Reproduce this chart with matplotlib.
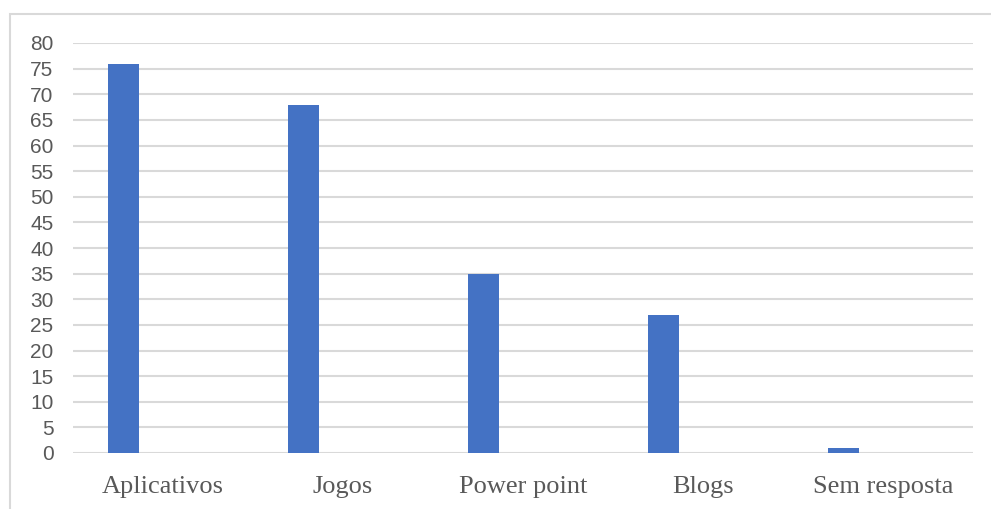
import numpy as np
import matplotlib.pyplot as plt
from matplotlib.patches import Rectangle

# Dados
categorias = ["Aplicativos", "Jogos", "Power point", "Blogs", "Sem resposta"]
valores = [76, 68, 35, 27, 1]
yticks = list(range(0, 85, 5))

fig = plt.figure(figsize=(9.91, 5.09), dpi=100)
ax = fig.add_axes([73 / 991, 1 - 453 / 509, 900 / 991, 410 / 509])

# Rahmen um das Diagramm
fig.patches.append(Rectangle((10 / 991, -0.05), 1.2, 1 - 14 / 509 + 0.05,
                             transform=fig.transFigure, fill=False,
                             edgecolor="#d9d9d9", linewidth=1.5))

x = np.arange(len(categorias))
ax.bar(x - 0.22, valores, width=0.172, color="#4472C4", zorder=3)

ax.set_xlim(-0.5, len(categorias) - 0.5)
ax.set_ylim(0, 80)
ax.set_yticks(yticks)
ax.set_xticks(x)
ax.set_xticklabels(categorias, fontfamily="Liberation Serif", fontsize=19, color="#595959")
for lbl in ax.get_yticklabels():
    lbl.set_fontfamily("Liberation Sans")
    lbl.set_fontsize(15)
    lbl.set_color("#595959")

ax.grid(axis="y", color="#d9d9d9", linewidth=1.5, zorder=0)
ax.tick_params(axis="both", length=0)
ax.tick_params(axis="x", pad=16.5)
ax.tick_params(axis="y", pad=14)
for s in ax.spines.values():
    s.set_visible(False)

fig.savefig("out.png", dpi=100)
